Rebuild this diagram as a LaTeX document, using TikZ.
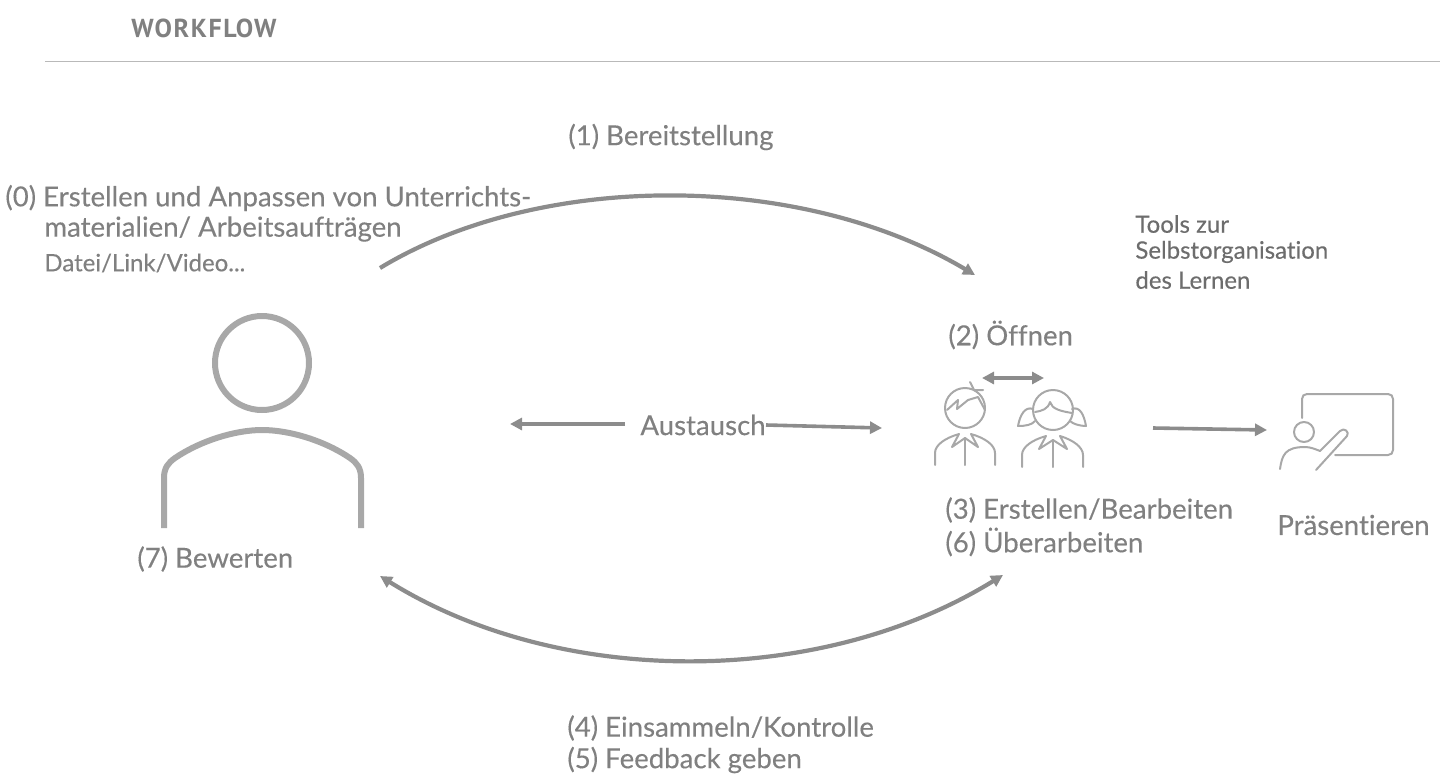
\documentclass[tikz,border=0pt]{standalone}
\usepackage{fontspec}
\setmainfont[Ligatures=NoCommon,FakeBold=0.25]{Lato}
\newfontfamily\headfont[LetterSpace=6]{PT Sans}
\usepackage{xcolor}
\definecolor{mygray}{RGB}{128,128,128}
\definecolor{icongray}{RGB}{168,168,168}
\definecolor{arrowgray}{RGB}{140,140,140}
\usetikzlibrary{arrows.meta}
\tikzset{
  label/.style={anchor=west,inner sep=0pt,text=mygray,font=\fontsize{13.8}{16}\selectfont},
  smalllabel/.style={label,font=\fontsize{12}{14}\selectfont},
  flow/.style={line width=1.8pt,arrowgray,-{Triangle[length=6pt,width=6pt]}},
  twoway/.style={flow,{Triangle[length=6pt,width=6pt]}-{Triangle[length=6pt,width=6pt]}},
  swoop/.style={line width=2.1pt},
  icon/.style={icongray,line width=1pt,line cap=round,line join=round},
  bigicon/.style={icongray,line width=3pt,line cap=butt}
}
\begin{document}
\begin{tikzpicture}[x=0.5pt,y=-0.5pt]
    % Page
    \useasboundingbox (0,0) rectangle (1440,782);
    % Header
    \node[anchor=west,inner sep=0pt,text=mygray,font=\headfont\bfseries\fontsize{13}{15}\selectfont] (head) at (131,28) {WORKFLOW};
    \draw[icongray!80,line width=0.5pt] (45,61) -- (1440,61);
    % Labels
    \node[label] (bereit) at (568,137) {(1) Bereitstellung};
    \node[label] (erstellen) at (5,198) {(0) Erstellen und Anpassen von Unterrichts-};
    \node[label] (material) at (44,229) {materialien/ Arbeitsaufträgen};
    \node[smalllabel] (datei) at (44,263) {Datei/Link/Video...};
    \node[smalllabel,text=mygray!85!black] (tools) at (1135,224) {Tools zur};
    \node[smalllabel,text=mygray!85!black] (selbst) at (1135,252) {Selbstorganisation};
    \node[smalllabel,text=mygray!85!black] (lernen) at (1135,280) {des Lernen};
    \node[label] (oeffnen) at (948,335) {(2) Öffnen};
    \node[label] (austausch) at (640,425) {Austausch};
    \node[label] (bearbeiten) at (945,510) {(3) Erstellen/Bearbeiten};
    \node[label] (ueberarb) at (945,542) {(6) Überarbeiten};
    \node[label] (praes) at (1277,525) {Präsentieren};
    \node[label] (bewerten) at (137,559) {(7) Bewerten};
    \node[label] (einsammeln) at (567,728) {(4) Einsammeln/Kontrolle};
    \node[label] (feedback) at (567,760) {(5) Feedback geben};
    % Arrow ends
    \coordinate (teacherTop) at (380,268);
    \coordinate (kidsTop) at (975,275);
    \coordinate (teacherBot) at (380,576);
    \coordinate (kidsBot) at (1003,575);
    \coordinate (leftEnd) at (510,424);
    \coordinate (leftStart) at (625,424);
    \coordinate (rightEnd) at (882,428);
    \coordinate (boyEnd) at (982,378);
    \coordinate (girlEnd) at (1044,378);
    \coordinate (presStart) at (1153,428);
    \coordinate (presEnd) at (1267,430);
    % Arrows
    \draw[flow,swoop] (teacherTop) .. controls (540,171) and (800,171) .. (kidsTop);
    \draw[twoway,swoop] (teacherBot) .. controls (560,688) and (820,688) .. (kidsBot);
    \draw[flow] (leftStart) -- (leftEnd);
    \draw[flow] (austausch.east) -- (rightEnd);
    \draw[twoway] (boyEnd) -- (girlEnd);
    \draw[flow] (presStart) -- (presEnd);
    % Teacher
    \draw[bigicon] (262,363) circle (47);
    \draw[bigicon] (164,528) -- (164,478) .. controls (164,468) and (168,463) .. (175,458)
        .. controls (200,441) and (235,430) .. (262,430) .. controls (290,430) and (325,441) .. (350,458)
        .. controls (357,463) and (361,468) .. (361,478) -- (361,528);
    % Boy
    \draw[icon] (965,408) circle (20);
    \draw[icon] (947,410) -- (958,400) -- (957,409) -- (968,400) -- (978,397) -- (985,410);
    \draw[icon] (970,382) -- (974,390) -- (983,390);
    \draw[icon] (935,465) -- (935,453) .. controls (935,445) and (945,438) .. (959,434)
        -- (952,447) -- (965,438) -- (978,447) -- (971,434)
        .. controls (985,438) and (995,445) .. (995,453) -- (995,465);
    \draw[icon] (965,438) -- (965,465);
    % Girl
    \draw[icon] (1053,410) circle (20);
    \draw[icon] (1035,412) .. controls (1042,411) and (1048,409) .. (1050,402) .. controls (1052,409) and (1060,411) .. (1072,413);
    \draw[icon] (1033,409) .. controls (1025,406) and (1020,415) .. (1018,426) .. controls (1025,426) and (1032,425) .. (1035,421);
    \draw[icon] (1072,409) .. controls (1080,406) and (1084,415) .. (1086,426) .. controls (1080,426) and (1073,424) .. (1070,421);
    \draw[icon] (1022,467) -- (1022,455) .. controls (1022,447) and (1032,440) .. (1046,436)
        -- (1039,449) -- (1053,440) -- (1067,449) -- (1060,436)
        .. controls (1073,440) and (1083,447) .. (1083,455) -- (1083,467);
    \draw[icon] (1053,440) -- (1053,467);
    % Presenter
    \draw[icon] (1302,418) -- (1302,399) .. controls (1302,396) and (1304,394) .. (1307,394)
        -- (1388,394) .. controls (1391,394) and (1393,396) .. (1393,399)
        -- (1393,450) .. controls (1393,453) and (1391,455) .. (1388,455) -- (1335,455);
    \draw[icon] (1304,432) circle (10);
    \draw[icon] (1280,469) .. controls (1282,455) and (1285,447) .. (1305,447)
        .. controls (1310,447) and (1315,449) .. (1320,451) -- (1340,431)
        .. controls (1344,427) and (1350,432) .. (1347,436) -- (1316,470);
\end{tikzpicture}
\end{document}
